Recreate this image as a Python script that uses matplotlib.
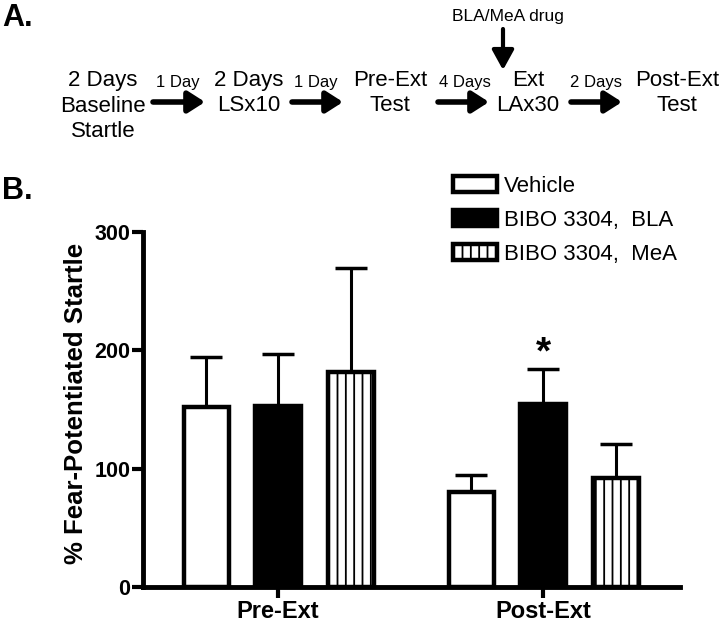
import matplotlib
matplotlib.use("Agg")
import matplotlib.pyplot as plt
import numpy as np

plt.rcParams['font.family'] = ['Liberation Sans', 'DejaVu Sans']
plt.rcParams['hatch.linewidth'] = 1.3

groups = ["Pre-Ext", "Post-Ext"]
series = ["Vehicle", "BIBO 3304,  BLA", "BIBO 3304,  MeA"]
means = {
    "Vehicle": [152, 80],
    "BIBO 3304,  BLA": [153, 155],
    "BIBO 3304,  MeA": [182, 92],
}
sems = {
    "Vehicle": [42, 15],
    "BIBO 3304,  BLA": [44, 29],
    "BIBO 3304,  MeA": [88, 29],
}
yticks = [0, 100, 200, 300]

W, H = 720, 622
fig = plt.figure(figsize=(W / 100, H / 100), dpi=100)

def fx(px):
    return px / W

def fy(py):
    return 1 - py / H

# ---------- Panel A (schematic) ----------
fig.text(fx(2), fy(18), "A.", fontsize=22, fontweight='bold', ha='left', va='center')
fig.text(fx(2), fy(191), "B.", fontsize=22, fontweight='bold', ha='left', va='center')

big = 16
small = 12
ls = 1.3
fig.text(fx(103), fy(106), "2 Days\nBaseline\nStartle", fontsize=big, ha='center', va='center', linespacing=ls)
fig.text(fx(249), fy(93), "2 Days\nLSx10", fontsize=big, ha='center', va='center', linespacing=ls)
fig.text(fx(390), fy(93), "Pre-Ext\nTest", fontsize=big, ha='center', va='center', linespacing=ls)
fig.text(fx(528), fy(93), "Ext\nLAx30", fontsize=big, ha='center', va='center', linespacing=ls)
fig.text(fx(677), fy(93), "Post-Ext\nTest", fontsize=big, ha='center', va='center', linespacing=ls)

for xc, lab in [(178, "1 Day"), (316, "1 Day"), (465, "4 Days"), (596, "2 Days")]:
    fig.text(fx(xc), fy(82), lab, fontsize=small, ha='center', va='center')

for x1, x2 in [(153, 205), (292, 343), (438, 489), (571, 622)]:
    fig.add_artist(matplotlib.patches.FancyArrowPatch(
        (fx(x1), fy(102)), (fx(x2), fy(102)), transform=fig.transFigure,
        arrowstyle='-|>,head_length=0.5,head_width=0.32', mutation_scale=20,
        lw=4, color='black', shrinkA=0, shrinkB=0))

fig.text(fx(508), fy(16), "BLA/MeA drug", fontsize=12.5, ha='center', va='center')
fig.add_artist(matplotlib.patches.FancyArrowPatch(
    (fx(503), fy(29)), (fx(503), fy(70)), transform=fig.transFigure,
    arrowstyle='-|>,head_length=0.6,head_width=0.33', mutation_scale=20,
    lw=3, color='black', shrinkA=0, shrinkB=0))

# ---------- Panel B (bar chart) ----------
ax = fig.add_axes([fx(143), fy(587), fx(680) - fx(143), fy(232) - fy(587)])

x = np.arange(len(groups))
offsets = [-0.27, 0.0, 0.275]
width = 0.172
styles = [dict(facecolor='white', hatch=None),
          dict(facecolor='black', hatch=None),
          dict(facecolor='white', hatch='||')]

handles = []
for s, off, st in zip(series, offsets, styles):
    m = np.array(means[s])
    e = np.array(sems[s])
    ax.errorbar(x + off, m, yerr=[np.zeros_like(e), e], fmt='none',
                ecolor='black', elinewidth=2.2, capsize=11.5, capthick=2.5, zorder=1)
    b = ax.bar(x + off, m, width=width, edgecolor='black', linewidth=3.2,
               facecolor=st['facecolor'], hatch=st['hatch'], zorder=2)
    handles.append(b)

ax.set_xlim((143 - 278) / 265, (680 - 278) / 265)
ax.set_ylim(0, 300)
ax.set_yticks(yticks)
ax.set_xticks(x)
ax.set_xticklabels(groups, fontsize=17, fontweight='bold')
ax.tick_params(axis='y', labelsize=15.5, width=3, length=8, pad=1)
ax.tick_params(axis='x', width=3, length=8, pad=1)
for lab in ax.get_yticklabels():
    lab.set_fontweight('bold')
for sp in ['top', 'right']:
    ax.spines[sp].set_visible(False)
for sp in ['left', 'bottom']:
    ax.spines[sp].set_linewidth(3.5)
ax.spines['left'].set_bounds(0, 300)
ax.set_ylabel("% Fear-Potentiated Startle", fontsize=18.5, fontweight='bold')
ax.yaxis.set_label_coords(fx(88 - 143) / (fx(680) - fx(143)), (587 - 403) / (587 - 232))

ax.text(x[1] + offsets[1], 184 + 13, "*", fontsize=28, fontweight='bold',
        ha='center', va='center')

leg = fig.legend(handles, series, loc='upper left', bbox_to_anchor=(fx(453), fy(176)),
                 frameon=False, fontsize=16, handlelength=2.0, handleheight=0.75,
                 handletextpad=0.3, labelspacing=0.58, borderaxespad=0, borderpad=0)

fig.savefig("out.png", dpi=100)
